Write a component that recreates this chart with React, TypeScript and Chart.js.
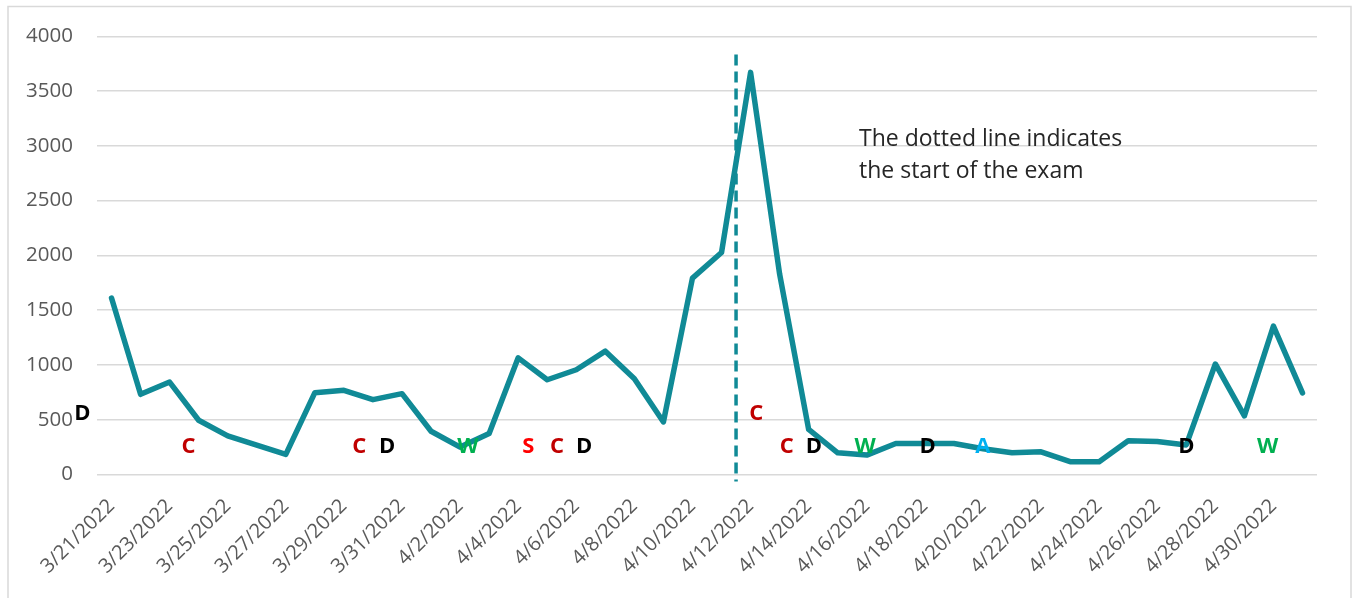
import React, { useEffect, useRef } from "react";
import { Chart, registerables } from "chart.js";

Chart.register(...registerables);

const dates = [
  "3/21/2022", "3/22/2022", "3/23/2022", "3/24/2022", "3/25/2022", "3/26/2022", "3/27/2022",
  "3/28/2022", "3/29/2022", "3/30/2022", "3/31/2022", "4/1/2022", "4/2/2022", "4/3/2022",
  "4/4/2022", "4/5/2022", "4/6/2022", "4/7/2022", "4/8/2022", "4/9/2022", "4/10/2022",
  "4/11/2022", "4/12/2022", "4/13/2022", "4/14/2022", "4/15/2022", "4/16/2022", "4/17/2022",
  "4/18/2022", "4/19/2022", "4/20/2022", "4/21/2022", "4/22/2022", "4/23/2022", "4/24/2022",
  "4/25/2022", "4/26/2022", "4/27/2022", "4/28/2022", "4/29/2022", "4/30/2022", "5/1/2022",
];

const counts = [
  1611, 732, 844, 495, 353, 268, 183, 747, 768, 683, 738, 395, 250, 374,
  1065, 865, 956, 1126, 874, 480, 1793, 2026, 3671, 1830, 411, 198, 177, 283,
  283, 283, 235, 198, 207, 117, 117, 308, 302, 270, 1009, 536, 1355, 745,
];

const yTicks = [0, 500, 1000, 1500, 2000, 2500, 3000, 3500, 4000];

// Letter annotations: position in category-index units and value units
const markLetters = ["D", "C", "C", "D", "W", "S", "C", "D", "C", "C", "D", "W", "D", "A", "D", "W"];
const markIndex = [-1, 2.65, 8.53, 9.49, 12.27, 14.35, 15.34, 16.27, 22.2, 23.25, 24.18, 25.94, 28.1, 30.0, 37.0, 39.8];
const markValue = [559, 250, 250, 250, 250, 250, 250, 250, 559, 250, 250, 250, 250, 250, 250, 250];
const markColors = [
  "#000000", "#C00000", "#C00000", "#000000", "#00B050", "#FF0000", "#C00000", "#000000",
  "#C00000", "#C00000", "#000000", "#00B050", "#000000", "#00B0F0", "#000000", "#00B050",
];

const examIndex = 21.5;
const examRange = [-65, 3835];
const noteLines = ["The dotted line indicates", "the start of the exam"];

const TEAL = "#108A96";
const FONT = "'Open Sans', 'Noto Sans', sans-serif";

export default function App() {
  const ref = useRef<HTMLCanvasElement | null>(null);

  useEffect(() => {
    if (!ref.current) return;
    const overlay = {
      id: "overlay",
      beforeDraw(chart: any) {
        const ctx = chart.ctx;
        ctx.save();
        ctx.fillStyle = "#ffffff";
        ctx.fillRect(0, 0, chart.width, chart.height);
        ctx.strokeStyle = "#d9d9d9";
        ctx.lineWidth = 1.5;
        ctx.strokeRect(8, 6.5, 1343, 600);
        ctx.restore();
      },
      afterDatasetsDraw(chart: any) {
        const ctx = chart.ctx;
        const xs = chart.scales.x;
        const ys = chart.scales.y;
        ctx.save();
        // dashed exam line
        const xe = xs.getPixelForValue(examIndex);
        ctx.strokeStyle = TEAL;
        ctx.lineWidth = 3.5;
        ctx.setLineDash([11, 6]);
        ctx.beginPath();
        ctx.moveTo(xe, ys.getPixelForValue(examRange[1]));
        ctx.lineTo(xe, ys.getPixelForValue(examRange[0]));
        ctx.stroke();
        ctx.setLineDash([]);
        // letters
        ctx.font = `bold 22px ${FONT}`;
        ctx.textAlign = "center";
        ctx.textBaseline = "middle";
        for (let i = 0; i < markLetters.length; i++) {
          ctx.fillStyle = markColors[i];
          ctx.fillText(markLetters[i], xs.getPixelForValue(markIndex[i]), ys.getPixelForValue(markValue[i]));
        }
        // note
        ctx.font = `23px ${FONT}`;
        ctx.fillStyle = "#262626";
        ctx.textAlign = "left";
        noteLines.forEach((t, i) => ctx.fillText(t, 859, 139 + i * 32));
        ctx.restore();
      },
    };

    const chart = new Chart(ref.current, {
      type: "line",
      data: {
        labels: dates,
        datasets: [
          {
            data: counts,
            borderColor: TEAL,
            borderWidth: 5.5,
            pointRadius: 0,
            tension: 0,
            borderCapStyle: "round",
            borderJoinStyle: "round",
            fill: false,
          },
        ],
      },
      options: {
        animation: false,
        responsive: true,
        maintainAspectRatio: false,
        layout: { padding: { left: 0, top: 34.5, right: 36, bottom: 0 } },
        plugins: { legend: { display: false }, tooltip: { enabled: false } },
        scales: {
          x: {
            offset: true,
            grid: { display: false, drawTicks: false },
            border: { display: false },
            ticks: {
              autoSkip: false,
              maxRotation: 45,
              minRotation: 45,
              padding: 20,
              color: "#595959",
              font: { family: FONT, size: 20 },
              callback: (_v: any, i: number) => (i % 2 === 0 ? dates[i] : ""),
            },
            afterFit: (s: any) => {
              s.height = 123.5;
            },
          },
          y: {
            min: 0,
            max: 4000,
            afterBuildTicks: (s: any) => {
              s.ticks = yTicks.map((v) => ({ value: v }));
            },
            grid: { color: "#d9d9d9", lineWidth: 1.5, drawTicks: false },
            border: { display: false },
            ticks: {
              padding: 24,
              color: "#595959",
              font: { family: FONT, size: 20.5 },
              callback: (v: any) => String(v),
            },
            afterFit: (s: any) => {
              s.width = 97;
            },
          },
        },
      },
      plugins: [overlay],
    });
    return () => chart.destroy();
  }, []);

  return (
    <div style={{ position: "absolute", left: 0, top: 0, width: 1353, height: 598 }}>
      <canvas ref={ref} />
    </div>
  );
}
